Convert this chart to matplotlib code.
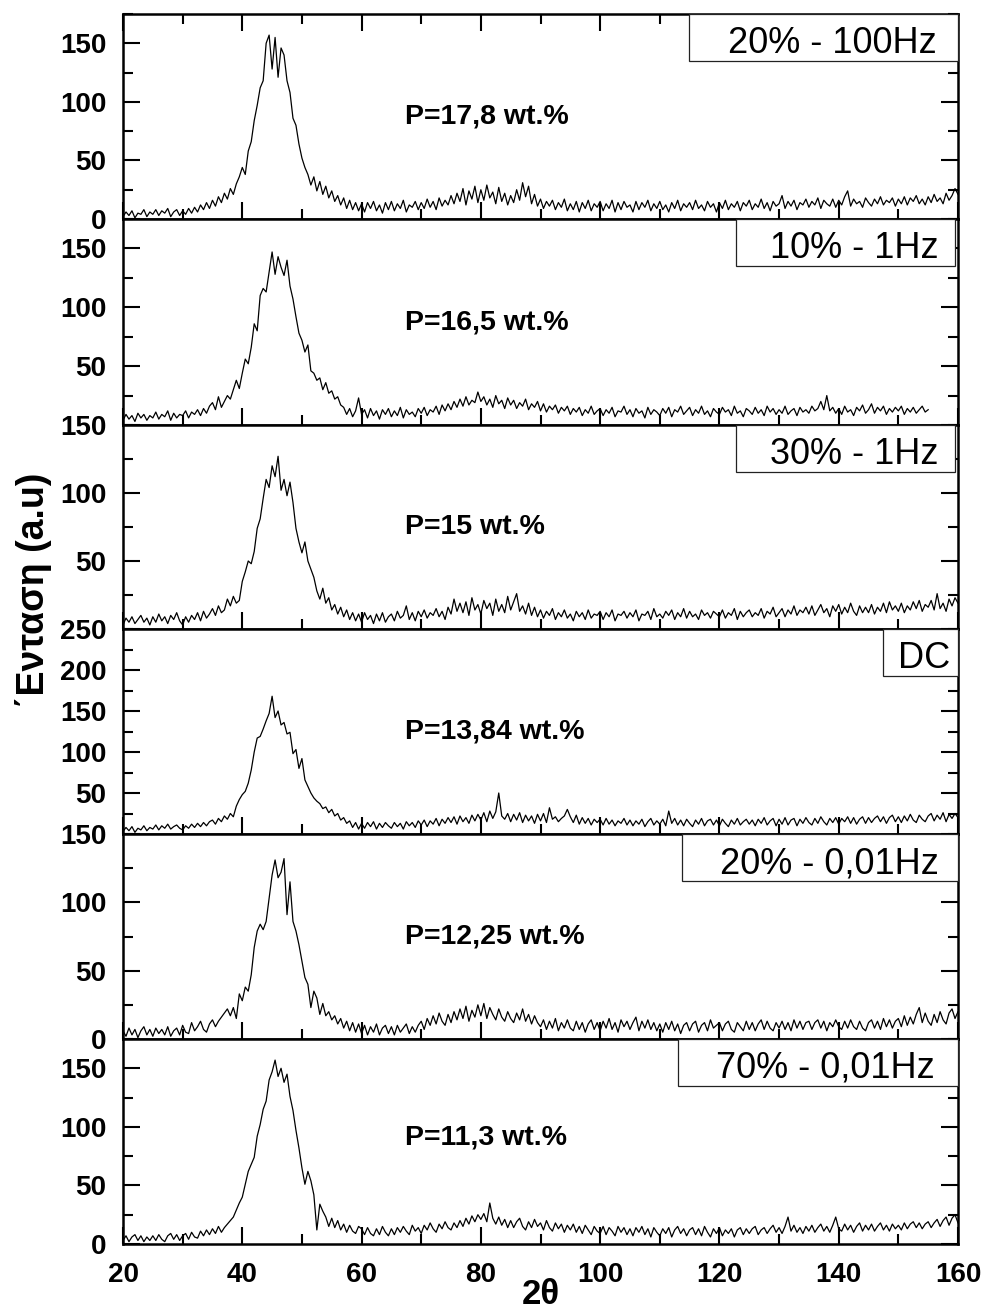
import numpy as np
import matplotlib.pyplot as plt
from matplotlib.patches import Rectangle
from matplotlib.ticker import MultipleLocator
from matplotlib.transforms import IdentityTransform

plt.rcParams['font.family'] = ['Liberation Sans', 'DejaVu Sans']

# 2theta grid, 0.5 deg step
two_theta = np.arange(20, 160.25, 0.5)
two_theta_short = np.arange(20, 155.25, 0.5)   # 10% - 1Hz scan stops at 155

# 20% - 100Hz
i_20_100 = [
    2, 6, 3, 7, 1, 5, 4, 8, 2, 6,
    4, 8, 3, 7, 5, 9, 2, 6, 8, 3,
    7, 4, 9, 5, 10, 6, 12, 8, 14, 9,
    16, 11, 19, 14, 22, 17, 26, 21, 30, 36,
    44, 38, 58, 66, 84, 97, 112, 118, 150, 157,
    128, 155, 121, 146, 140, 118, 108, 86, 80, 64,
    52, 44, 38, 29, 36, 24, 32, 21, 28, 18,
    24, 15, 20, 12, 18, 9, 16, 8, 14, 7,
    13, 6, 14, 9, 15, 7, 12, 5, 14, 8,
    15, 7, 13, 9, 16, 6, 12, 10, 15, 8,
    14, 9, 17, 10, 15, 8, 18, 11, 16, 12,
    20, 13, 22, 15, 26, 12, 24, 17, 28, 14,
    25, 16, 29, 18, 23, 13, 27, 15, 22, 12,
    20, 14, 25, 16, 31, 19, 28, 13, 21, 11,
    17, 9, 15, 11, 16, 8, 14, 10, 17, 7,
    13, 8, 15, 6, 14, 9, 16, 7, 13, 10,
    15, 7, 13, 9, 16, 6, 14, 8, 15, 10,
    12, 6, 15, 8, 14, 10, 16, 7, 13, 9,
    15, 8, 12, 6, 14, 9, 16, 7, 13, 10,
    14, 8, 16, 9, 12, 7, 15, 10, 13, 6,
    14, 9, 16, 8, 13, 10, 15, 7, 14, 11,
    16, 8, 13, 10, 17, 9, 14, 7, 15, 11,
    13, 20, 9, 15, 11, 16, 8, 14, 12, 17,
    10, 15, 12, 18, 9, 16, 13, 11, 17, 10,
    16, 12, 19, 24, 11, 17, 13, 15, 10, 18,
    14, 11, 17, 13, 19, 12, 16, 14, 18, 11,
    17, 13, 19, 12, 18, 15, 20, 13, 17, 12,
    19, 14, 21, 15, 18, 13, 22, 16, 20, 26,
    21]

# 10% - 1Hz
i_10_1 = [
    4, 9, 5, 8, 3, 10, 6, 9, 4, 8,
    6, 11, 5, 9, 7, 12, 4, 10, 6, 9,
    8, 12, 6, 11, 9, 13, 8, 14, 10, 16,
    19, 13, 24, 15, 20, 25, 22, 30, 38, 31,
    44, 56, 52, 66, 86, 80, 110, 116, 113, 130,
    147, 128, 143, 134, 127, 140, 118, 107, 92, 78,
    72, 62, 68, 46, 44, 38, 40, 30, 36, 27,
    29, 22, 24, 17, 15, 9, 14, 7, 12, 23,
    9, 13, 6, 14, 8, 12, 5, 13, 9, 14,
    7, 12, 8, 15, 6, 13, 9, 11, 7, 14,
    10, 15, 8, 13, 11, 16, 9, 17, 12, 18,
    13, 20, 15, 22, 16, 24, 17, 21, 19, 28,
    20, 24, 17, 22, 15, 25, 18, 21, 14, 23,
    17, 21, 14, 19, 16, 22, 13, 18, 15, 20,
    12, 18, 11, 16, 13, 17, 10, 15, 12, 16,
    9, 14, 11, 15, 8, 13, 10, 16, 9, 12,
    14, 8, 13, 10, 15, 7, 12, 11, 16, 9,
    13, 7, 14, 10, 12, 6, 15, 9, 13, 11,
    8, 14, 10, 15, 7, 13, 11, 16, 9, 12,
    15, 8, 13, 10, 16, 9, 12, 7, 14, 11,
    9, 15, 11, 13, 8, 16, 10, 12, 7, 14,
    12, 9, 15, 10, 13, 8, 16, 11, 14, 9,
    13, 10, 16, 9, 12, 14, 8, 15, 11, 13,
    10, 16, 12, 14, 20, 13, 25, 12, 15, 10,
    14, 9, 16, 11, 13, 8, 15, 12, 17, 10,
    13, 18, 10, 15, 12, 16, 9, 14, 11, 15,
    12, 16, 9, 14, 11, 15, 10, 13, 16, 11,
    13]

# 30% - 1Hz
i_30_1 = [
    3, 8, 5, 9, 4, 7, 10, 5, 8, 3,
    9, 5, 11, 6, 9, 4, 10, 7, 12, 6,
    3, 9, 5, 10, 7, 12, 6, 13, 8, 11,
    15, 10, 17, 12, 14, 22, 17, 24, 19, 21,
    35, 42, 50, 48, 57, 74, 81, 96, 110, 104,
    120, 112, 127, 102, 110, 98, 108, 93, 74, 64,
    56, 64, 50, 44, 38, 28, 22, 30, 19, 23,
    14, 18, 11, 16, 9, 14, 7, 12, 6, 11,
    5, 12, 7, 10, 4, 11, 6, 12, 5, 9,
    11, 6, 13, 8, 10, 17, 7, 12, 6, 13,
    9, 14, 8, 12, 10, 15, 9, 13, 7, 16,
    11, 22, 13, 19, 12, 20, 10, 23, 14, 18,
    11, 21, 15, 19, 10, 22, 13, 18, 12, 24,
    14, 20, 26, 13, 17, 11, 19, 10, 16, 9,
    14, 8, 13, 10, 15, 7, 12, 9, 14, 8,
    11, 6, 13, 9, 12, 7, 14, 8, 11, 10,
    13, 7, 12, 9, 14, 6, 11, 10, 13, 8,
    12, 9, 14, 6, 11, 10, 13, 7, 15, 9,
    11, 8, 13, 10, 14, 7, 12, 9, 15, 8,
    13, 9, 11, 7, 14, 10, 12, 8, 13, 11,
    9, 14, 8, 12, 10, 15, 7, 13, 9, 12,
    14, 9, 12, 10, 15, 8, 13, 11, 16, 9,
    12, 15, 9, 14, 11, 17, 10, 14, 12, 16,
    11, 17, 10, 14, 18, 12, 15, 9, 17, 13,
    18, 11, 16, 12, 19, 13, 10, 17, 12, 16,
    12, 18, 11, 16, 13, 19, 12, 20, 14, 17,
    13, 19, 12, 17, 14, 20, 15, 21, 13, 18,
    16, 21, 14, 26, 15, 19, 13, 22, 17, 23,
    19]

# DC
i_dc = [
    3, 8, 4, 9, 2, 7, 5, 10, 4, 8,
    6, 11, 5, 10, 7, 12, 6, 9, 11, 7,
    5, 10, 7, 12, 8, 13, 9, 14, 10, 15,
    17, 12, 19, 15, 22, 18, 25, 21, 34, 42,
    48, 52, 62, 78, 100, 117, 119, 128, 138, 147,
    168, 142, 150, 133, 136, 122, 124, 98, 103, 80,
    92, 66, 58, 50, 44, 40, 37, 31, 33, 26,
    30, 22, 25, 17, 20, 13, 16, 8, 14, 6,
    13, 7, 14, 9, 15, 6, 13, 8, 14, 10,
    7, 14, 9, 13, 6, 15, 10, 14, 8, 16,
    11, 17, 9, 16, 12, 19, 10, 18, 13, 20,
    14, 21, 12, 22, 15, 20, 13, 23, 16, 24,
    17, 26, 15, 28, 19, 27, 50, 22, 18, 25,
    15, 24, 17, 26, 14, 23, 16, 22, 13, 24,
    16, 25, 14, 32, 18, 21, 15, 19, 22, 30,
    21, 14, 23, 12, 20, 13, 19, 11, 18, 14,
    18, 11, 19, 12, 17, 10, 16, 13, 19, 11,
    17, 10, 16, 12, 18, 9, 15, 19, 11, 16,
    12, 18, 10, 28, 13, 19, 11, 17, 10, 18,
    13, 9, 17, 12, 19, 10, 16, 18, 11, 17,
    10, 18, 13, 9, 17, 12, 19, 11, 15, 18,
    12, 17, 10, 18, 13, 20, 11, 16, 19, 10,
    18, 12, 20, 11, 17, 19, 10, 18, 13, 20,
    14, 11, 19, 13, 21, 15, 11, 19, 14, 20,
    12, 19, 15, 21, 13, 20, 12, 18, 21, 13,
    20, 14, 19, 22, 15, 21, 13, 20, 23, 15,
    21, 14, 22, 16, 24, 17, 14, 23, 18, 15,
    22, 25, 16, 23, 18, 26, 15, 24, 19, 25,
    20]

# 20% - 0,01Hz
i_20_001 = [
    6, 2, 8, 3, 7, 1, 6, 9, 3, 7,
    2, 8, 4, 7, 3, 9, 2, 6, 8, 3,
    10, 5, 4, 12, 6, 9, 13, 7, 5, 11,
    14, 9, 13, 16, 19, 22, 17, 23, 15, 33,
    28, 38, 35, 47, 67, 79, 84, 80, 86, 103,
    120, 131, 118, 122, 132, 91, 115, 86, 79, 69,
    57, 45, 40, 23, 35, 30, 18, 26, 17, 20,
    14, 17, 11, 15, 8, 13, 6, 12, 5, 11,
    4, 10, 3, 9, 5, 11, 3, 8, 10, 4,
    9, 3, 10, 5, 8, 11, 4, 9, 5, 10,
    13, 7, 15, 10, 17, 11, 19, 13, 10, 18,
    12, 20, 14, 22, 15, 24, 13, 21, 16, 25,
    17, 26, 15, 23, 18, 14, 22, 16, 13, 20,
    15, 12, 19, 14, 22, 13, 18, 11, 17, 12,
    9, 14, 7, 13, 8, 15, 6, 12, 8, 14,
    8, 6, 13, 7, 12, 5, 11, 14, 7, 12,
    6, 13, 8, 15, 7, 12, 5, 14, 9, 13,
    7, 12, 16, 6, 13, 8, 14, 7, 12, 6,
    11, 5, 12, 7, 13, 6, 11, 4, 10, 12,
    6, 11, 13, 5, 10, 12, 6, 14, 8, 10,
    12, 6, 11, 13, 7, 5, 12, 9, 6, 13,
    7, 12, 6, 11, 14, 7, 13, 8, 6, 12,
    8, 13, 7, 12, 6, 14, 8, 13, 7, 12,
    13, 7, 12, 14, 8, 13, 6, 12, 9, 14,
    9, 7, 13, 8, 14, 9, 7, 13, 8, 6,
    12, 14, 8, 13, 7, 15, 9, 14, 8, 13,
    15, 9, 17, 10, 16, 11, 18, 23, 12, 19,
    13, 10, 18, 12, 20, 14, 11, 19, 22, 15,
    20]

# 70% - 0,01Hz
i_70_001 = [
    3, 7, 2, 6, 8, 3, 7, 2, 6, 3,
    7, 3, 8, 4, 2, 7, 9, 4, 8, 3,
    7, 9, 4, 10, 6, 5, 11, 7, 12, 8,
    13, 9, 15, 10, 14, 17, 20, 23, 29, 35,
    40, 51, 62, 68, 74, 92, 102, 115, 122, 140,
    147, 157, 143, 150, 138, 145, 126, 114, 97, 82,
    65, 51, 62, 54, 42, 12, 34, 28, 23, 15,
    22, 14, 20, 12, 17, 10, 16, 11, 9, 15,
    13, 8, 14, 9, 7, 13, 8, 15, 10, 7,
    13, 8, 14, 10, 15, 11, 8, 16, 11, 14,
    9, 16, 12, 18, 13, 10, 17, 13, 19, 14,
    12, 18, 14, 20, 15, 22, 17, 24, 19, 25,
    21, 26, 19, 35, 22, 17, 23, 16, 21, 14,
    20, 14, 19, 22, 15, 12, 19, 14, 21, 15,
    18, 12, 20, 14, 11, 18, 13, 17, 10, 16,
    12, 17, 10, 15, 9, 16, 12, 8, 15, 11,
    9, 15, 8, 14, 11, 7, 15, 10, 14, 8,
    13, 7, 14, 10, 15, 8, 13, 6, 14, 10,
    7, 13, 9, 14, 6, 12, 15, 9, 13, 7,
    12, 14, 8, 13, 7, 15, 10, 6, 13, 9,
    14, 7, 12, 9, 13, 6, 12, 14, 8, 13,
    9, 13, 15, 8, 12, 14, 9, 13, 16, 10,
    14, 9, 15, 23, 11, 16, 10, 14, 9, 15,
    11, 16, 10, 14, 17, 11, 15, 10, 16, 23,
    13, 11, 17, 12, 16, 10, 15, 18, 11, 16,
    12, 17, 11, 15, 18, 12, 16, 11, 17, 13,
    16, 12, 18, 13, 17, 19, 14, 18, 13, 17,
    19, 14, 18, 21, 15, 20, 23, 16, 22, 25,
    18]

series = [i_20_100, i_10_1, i_30_1, i_dc, i_20_001, i_70_001]
x_series = [two_theta, two_theta_short, two_theta, two_theta, two_theta, two_theta]
sample_labels = ['20% - 100Hz', '10% - 1Hz', '30% - 1Hz', 'DC', '20% - 0,01Hz', '70% - 0,01Hz']
p_labels = ['P=17,8 wt.%', 'P=16,5 wt.%', 'P=15 wt.%', 'P=13,84 wt.%', 'P=12,25 wt.%', 'P=11,3 wt.%']
y_max = [175, 175, 150, 250, 150, 175]
y_ticks = [[0, 50, 100, 150], [50, 100, 150], [50, 100, 150],
           [50, 100, 150, 200, 250], [0, 50, 100, 150], [0, 50, 100, 150]]
x_ticks = [20, 40, 60, 80, 100, 120, 140, 160]

W, H = 986, 1310
fig = plt.figure(figsize=(W / 100, H / 100), dpi=100)

# panel edges in pixels from the top
edges = [14, 219, 425, 629, 834, 1039, 1244]
ax_left, ax_right = 123, 958
# label box paddings (left, right) in px
box_pads = [(39, 21), (34, 17), (34, 17), (15, 8), (38, 19), (38, 23)]
box_right = [958, 955, 955, 958, 958, 958]

axes = []
texts = []
for i in range(6):
    top, bot = edges[i], edges[i + 1]
    ax = fig.add_axes([ax_left / W, 1 - bot / H, (ax_right - ax_left) / W, (bot - top) / H])
    ax.plot(x_series[i], series[i], color='black', lw=0.9)
    ax.set_xlim(20, 160)
    ax.set_ylim(0, y_max[i])

    ax.set_yticks(y_ticks[i], [str(t) for t in y_ticks[i]], fontsize=20, fontweight='bold')
    ax.yaxis.set_minor_locator(MultipleLocator(25))
    ax.set_xticks(x_ticks, [str(t) for t in x_ticks], fontsize=20, fontweight='bold')
    ax.xaxis.set_minor_locator(MultipleLocator(10))
    ax.tick_params(which='both', direction='in', right=True, top=(i == 0), width=1.5)
    ax.tick_params(which='major', length=12)
    ax.tick_params(which='minor', length=7)
    ax.tick_params(axis='y', pad=12)
    ax.tick_params(axis='x', pad=13, labelbottom=(i == 5))
    for s in ax.spines.values():
        s.set_linewidth(1.8)

    yp = 0.52 if i == 5 else 0.5
    ax.text(67.3, yp, p_labels[i], transform=ax.get_xaxis_transform(),
            ha='left', va='center', fontsize=20.5, fontweight='bold')

    t = ax.text(box_right[i] - box_pads[i][1], H - (top + 39), sample_labels[i],
                transform=IdentityTransform(), ha='right', va='baseline',
                fontsize=26, zorder=6)
    axes.append(ax)
    texts.append(t)

fig.canvas.draw()
for i, (ax, t) in enumerate(zip(axes, texts)):
    bb = t.get_window_extent()
    left = bb.x0 - box_pads[i][0]
    top = edges[i]
    rect = Rectangle((left, H - top - 47), box_right[i] - left, 47,
                     transform=IdentityTransform(), facecolor='white',
                     edgecolor='#222222', lw=0.9, zorder=5, clip_on=False)
    ax.add_patch(rect)

fig.text(34 / W, 1 - 590 / H, '΄Ενταση (a.u)', rotation=90, ha='center', va='center',
         fontsize=27, fontweight='bold')
fig.text(541 / W, 1 - 1295 / H, '2θ', ha='center', va='center',
         fontsize=25, fontweight='bold')

fig.savefig('out.png', dpi=100)
